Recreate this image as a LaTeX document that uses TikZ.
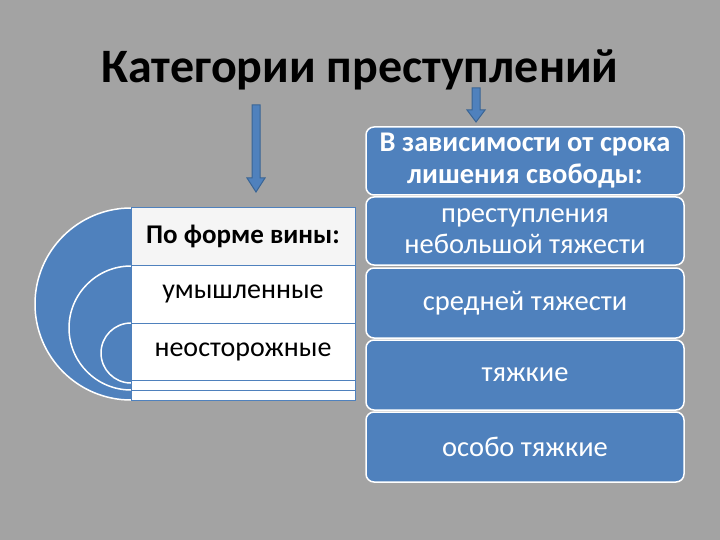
\documentclass[tikz,border=0pt]{standalone}
\usepackage{fontspec}
\setmainfont{Carlito}
\definecolor{bg}{HTML}{A3A3A3}
\definecolor{blu}{HTML}{4F81BD}
\definecolor{dblu}{HTML}{3A6595}
\begin{document}
\begin{tikzpicture}[x=1pt,y=-1pt,
  rbox/.style={draw=white,line width=1.5pt,fill=blu,rounded corners=8pt,minimum width=318pt,text=white,font=\fontsize{28.5}{31}\selectfont,align=center,inner sep=0pt},
  row/.style={draw=blu,line width=1pt,fill=white,minimum width=224pt,inner sep=0pt,font=\fontsize{28}{30}\selectfont},
  arc/.style={fill=blu,draw=white,line width=1.5pt},
  barrow/.style={fill=blu,draw=dblu,line width=1pt}]
\fill[bg] (0,0) rectangle (720,540);
\node (title) at (360,70) {\fontsize{48}{52}\selectfont\bfseries Категории преступлений};
% arrows
\draw[barrow] (252,105) -- (260,105) -- (260,178) -- (265,178) -- (256,192) -- (247,178) -- (252,178) -- cycle;
\draw[barrow] (472,88) -- (480,88) -- (480,110) -- (485,110) -- (476,122) -- (467,110) -- (472,110) -- cycle;
% arcs
\draw[arc] (131,208) arc (270:90:96);
\draw[arc] (131,266) arc (270:90:62);
\draw[arc] (131,323) arc (270:90:30);
% rows
\node[row,minimum height=10pt] (r5) at (243,395) {};
\node[row,minimum height=10pt] (r4) at (243,385) {};
\node[row,minimum height=57pt] (r3) at (243,351.5) {неосторожные};
\node[row,minimum height=58pt] (r2) at (243,294) {умышленные};
\node[row,fill=gray!8,minimum height=57pt,font=\fontsize{27}{30}\selectfont\bfseries] (r1) at (243,236.5) {По форме вины:};
% right boxes
\node[rbox,minimum height=68pt,font=\fontsize{28.5}{32}\selectfont\bfseries] (b0) at (525,161) {В зависимости от срока\\лишения свободы:};
\node[rbox,minimum height=68pt] (b1) at (525,231) {преступления\\небольшой тяжести};
\node[rbox,minimum height=70pt] (b2) at (525,303) {средней тяжести};
\node[rbox,minimum height=70pt] (b3) at (525,375) {тяжкие};
\node[rbox,minimum height=70pt] (b4) at (525,447) {особо тяжкие};
\end{tikzpicture}
\end{document}
